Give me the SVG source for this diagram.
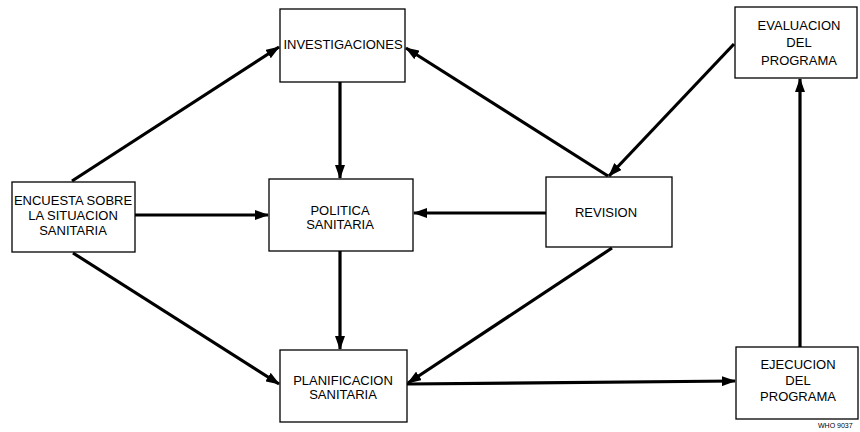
<svg xmlns="http://www.w3.org/2000/svg" width="860" height="432" viewBox="0 0 860 432">
<style>
.box{fill:#fff;stroke:#000;stroke-width:1.3}
.t{font-family:"Liberation Sans",Arial,sans-serif;font-size:13px;fill:#000;text-anchor:middle}
.c{stroke:#000;stroke-width:3.2;fill:none;marker-end:url(#ah)}
</style>
<defs>
<marker id="ah" markerUnits="userSpaceOnUse" markerWidth="14" markerHeight="10" refX="13" refY="5" orient="auto">
<path d="M0,0 L14,5 L0,10 Z" fill="#000"/>
</marker>
</defs>
<rect width="860" height="432" fill="#fff"/>
<g id="connectors">
<line class="c" x1="72" y1="181" x2="279" y2="47"/>
<line class="c" x1="135" y1="215" x2="268" y2="215"/>
<line class="c" x1="73" y1="253" x2="279" y2="384"/>
<line class="c" x1="340" y1="82" x2="340" y2="178"/>
<line class="c" x1="340" y1="251" x2="340" y2="349"/>
<line class="c" x1="546" y1="213" x2="414" y2="213"/>
<line class="c" x1="608" y1="176" x2="406" y2="48"/>
<line class="c" x1="734" y1="44" x2="609" y2="176"/>
<line class="c" x1="612" y1="248" x2="408" y2="383"/>
<line class="c" x1="407" y1="384" x2="735" y2="381"/>
<line class="c" x1="800" y1="347" x2="800" y2="79"/>
</g>
<g id="encuesta">
<rect class="box" x="12" y="182" width="123" height="70"/>
<text class="t" x="73" y="205">ENCUESTA SOBRE</text>
<text class="t" x="73" y="220">LA SITUACION</text>
<text class="t" x="73" y="235">SANITARIA</text>
</g>
<g id="investigaciones">
<rect class="box" x="280" y="9" width="125" height="73"/>
<text class="t" x="343" y="49">INVESTIGACIONES</text>
</g>
<g id="evaluacion">
<rect class="box" x="735" y="7" width="122" height="71"/>
<text class="t" x="799" y="30">EVALUACION</text>
<text class="t" x="799" y="47">DEL</text>
<text class="t" x="799" y="65">PROGRAMA</text>
</g>
<g id="politica">
<rect class="box" x="269" y="179" width="144" height="72"/>
<text class="t" x="340" y="215">POLITICA</text>
<text class="t" x="340" y="229">SANITARIA</text>
</g>
<g id="revision">
<rect class="box" x="546" y="177" width="126" height="70"/>
<text class="t" x="606" y="217">REVISION</text>
</g>
<g id="planificacion">
<rect class="box" x="280" y="350" width="127" height="72"/>
<text class="t" x="343" y="385">PLANIFICACION</text>
<text class="t" x="343" y="399">SANITARIA</text>
</g>
<g id="ejecucion">
<rect class="box" x="736" y="347" width="122" height="72"/>
<text class="t" x="798" y="369">EJECUCION</text>
<text class="t" x="798" y="385">DEL</text>
<text class="t" x="798" y="401">PROGRAMA</text>
</g>
<text x="818" y="428" style="font-family:'Liberation Sans',Arial,sans-serif;font-size:7px;fill:#000">WHO 9037</text>
</svg>
